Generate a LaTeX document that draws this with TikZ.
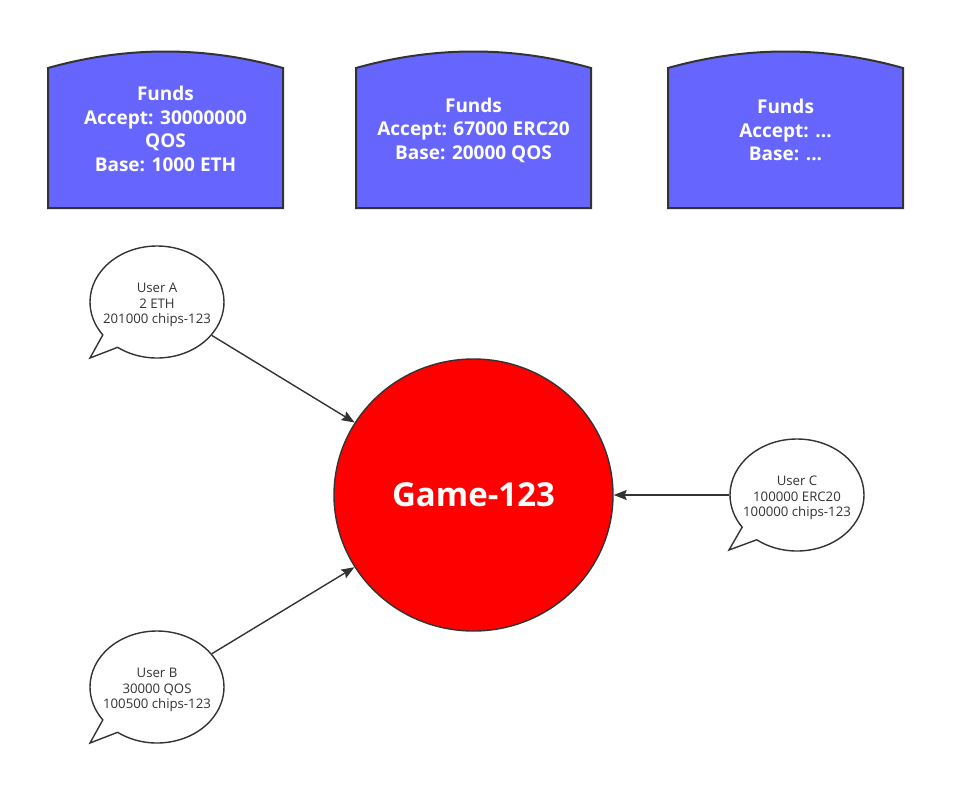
\documentclass[tikz,border=0pt]{standalone}
\usepackage{fontspec}
\setmainfont{Open Sans}
\usepackage{tikz}
\usetikzlibrary{arrows.meta,shapes.geometric,shapes.callouts}
\definecolor{fundsblue}{HTML}{6666FF}
\definecolor{edgegray}{HTML}{333333}

\begin{document}
\begin{tikzpicture}[x=1pt,y=-1pt,
	fundstext/.style={text=white,align=center,font=\bfseries\fontsize{19}{23.5}\selectfont},
	usercall/.style={ellipse callout,draw=edgegray,line width=1.4pt,fill=white,
		minimum width=134pt,minimum height=112pt,inner sep=-9pt,callout pointer arc=18,
		align=center,font=\fontsize{13.2}{15.5}\selectfont,text=edgegray},
	flow/.style={draw=edgegray,line width=1.4pt,-{Stealth[length=13pt,width=10pt,inset=2pt]}}]
	\useasboundingbox (0,0) rectangle (965,806);
	
	% fund boxes
	\foreach \x in {48,356,668}
	\draw[fill=fundsblue,draw=edgegray,line width=2pt]
	(\x,208)--(\x,68).. controls (\x+78,46) and (\x+157,46) ..(\x+235,68)--(\x+235,208)--cycle;
	
	\node[fundstext] (f1) at (165.5,129) {Funds\\Accept: 30000000\\QOS\\Base: 1000 ETH};
	\node[fundstext] (f2) at (473.5,130) {Funds\\Accept: 67000 ERC20\\Base: 20000 QOS};
	\node[fundstext] (f3) at (785.5,130) {Funds\\Accept: ...\\Base: ...};
	
	% game
	\node[ellipse,draw=edgegray,line width=1.4pt,fill=red,minimum width=279pt,minimum height=272pt,
	text=white,font=\bfseries\fontsize{33}{40}\selectfont] (game) at (473.5,495) {Game-123};
	
	% users
	\node[usercall,callout absolute pointer={(90,358)}] (ua) at (157,302) {\rule{0pt}{16pt}User A\\2 ETH\\201000 chips-123};
	\node[usercall,callout absolute pointer={(90,743)}] (ub) at (157,687) {\rule{0pt}{16pt}User B\\30000 QOS\\100500 chips-123};
	\node[usercall,callout absolute pointer={(729,550)}] (uc) at (797,495) {\rule{0pt}{16pt}User C\\100000 ERC20\\100000 chips-123};
	
	\draw[flow] (ua)--(game);
	\draw[flow] (ub)--(game);
	\draw[flow] (uc)--(game);
\end{tikzpicture}
\end{document}
